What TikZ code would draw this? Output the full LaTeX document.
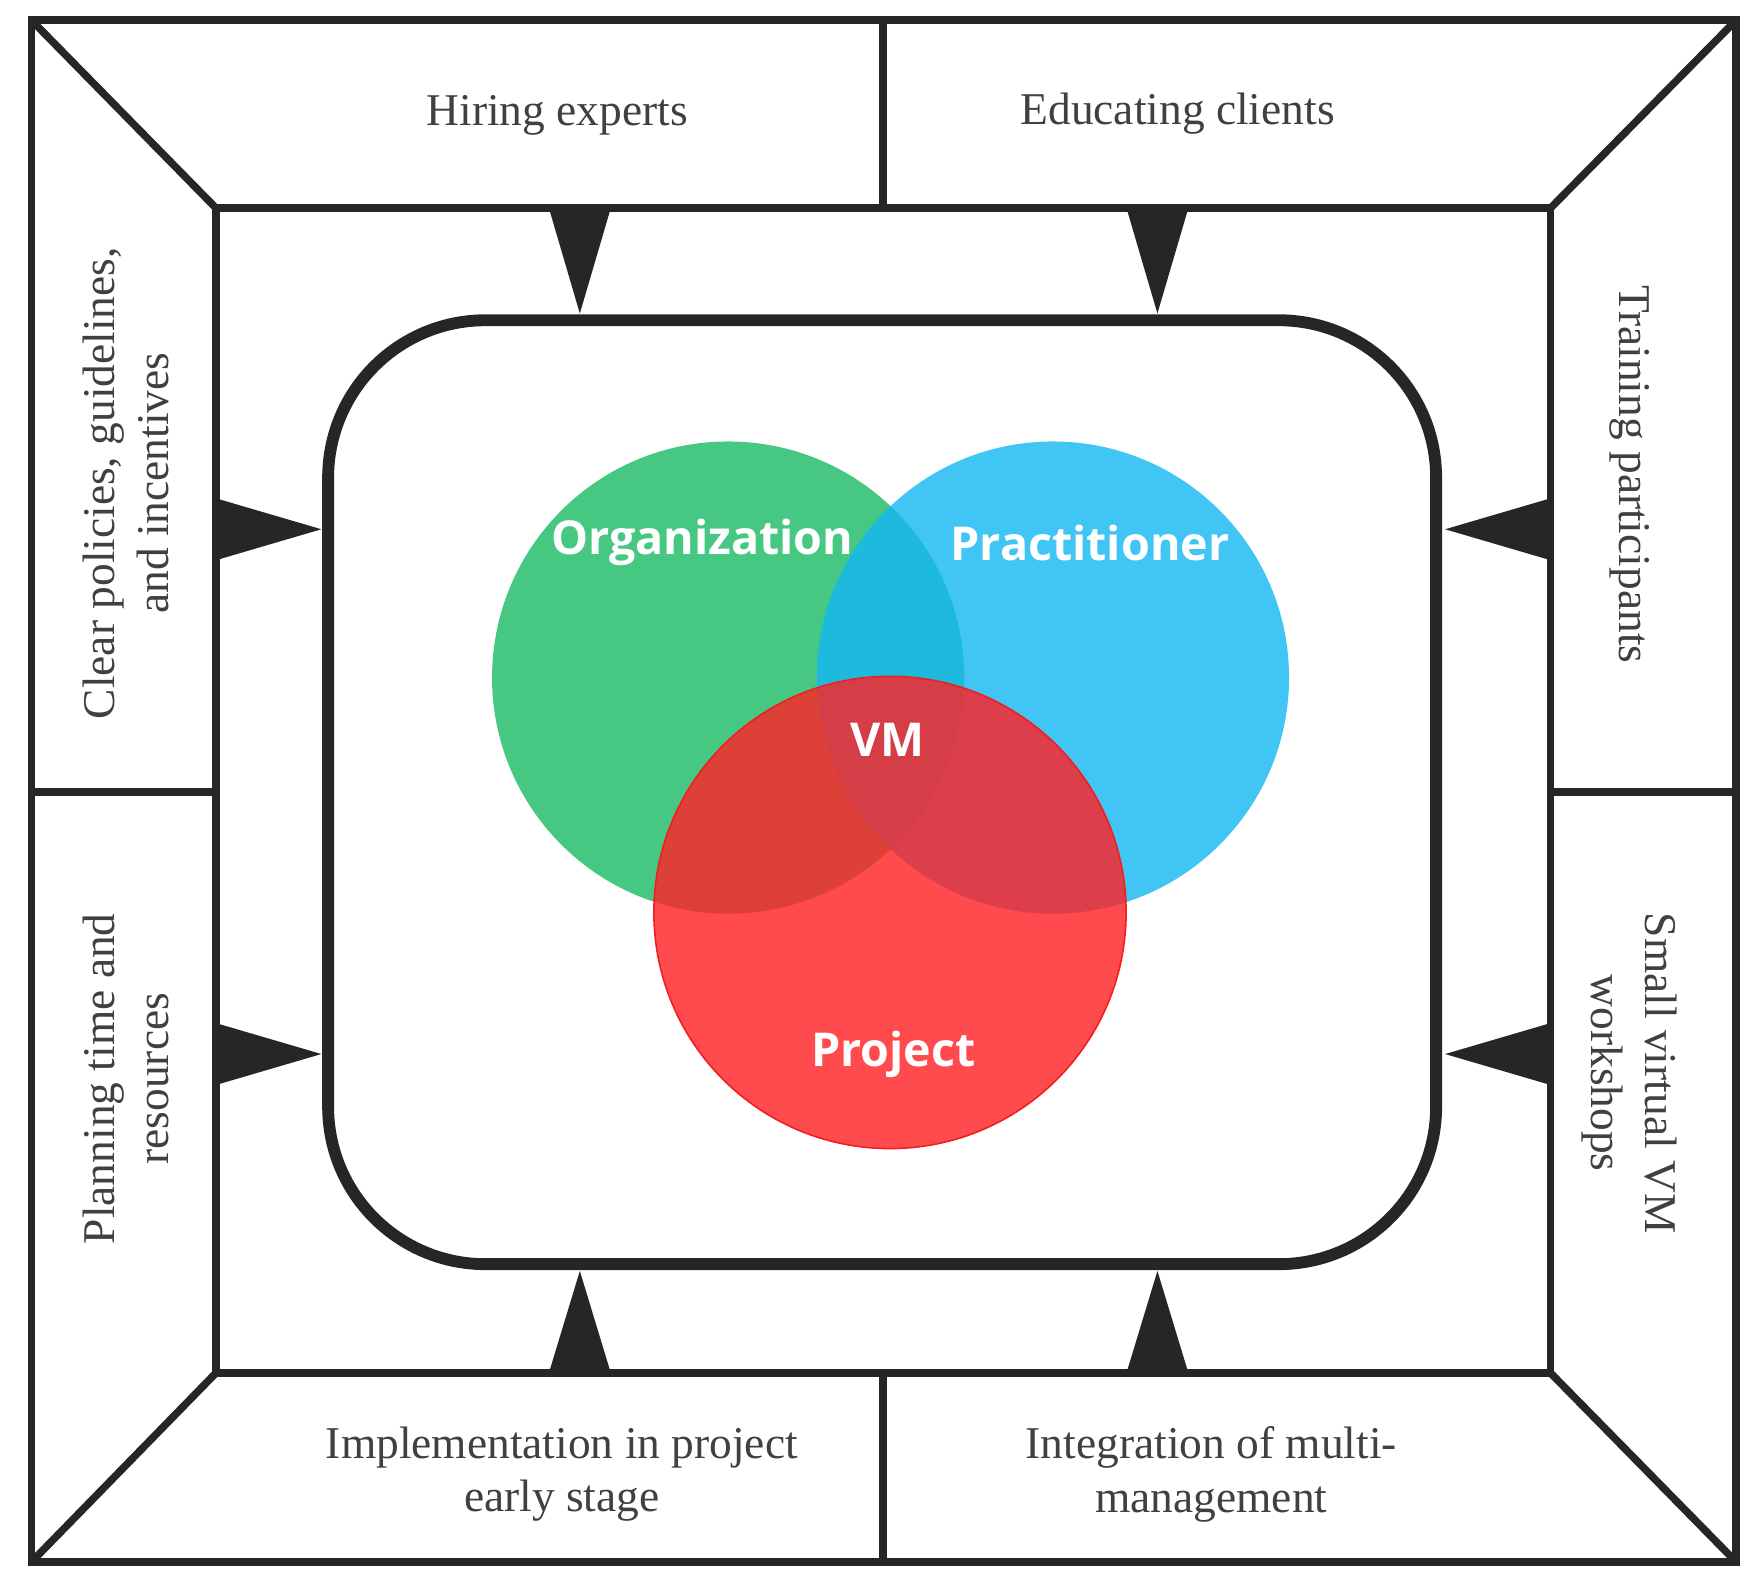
\documentclass[tikz,border=0pt]{standalone}
\usepackage{fontspec}
\setmainfont{Liberation Serif}
\newfontfamily\labelfont{Open Sans}
\usetikzlibrary{calc,positioning}

\tikzset{
  frame/.style={line width=1.9pt,draw=black!85},
  tip/.style={fill=black!85,draw=none},
  side/.style={font=\fontsize{11.5}{13.5}\selectfont,text=black!75,align=center},
  set/.style={circle,minimum size=4.2cm,inner sep=0pt,fill opacity=0.82,text opacity=1},
  setlabel/.style={font=\labelfont\bfseries\fontsize{11.8}{14}\selectfont,text=white}
}

\begin{document}
\begin{tikzpicture}[x=0.01cm,y=-0.01cm]
\useasboundingbox (0,0) rectangle (1568,1410);
% frames
\draw[frame] (28,18) rectangle (1545,1390);
\draw[frame] (192,185) rectangle (1380,1222);
\draw[frame] (28,18) -- (192,185) (1545,18) -- (1380,185)
  (28,1390) -- (192,1222) (1545,1390) -- (1380,1222);
\draw[frame] (786,18) -- (786,185) (786,1222) -- (786,1390)
  (28,705) -- (192,705) (1380,705) -- (1545,705);
\draw[line width=3pt,draw=black!85,rounded corners=1.4cm] (292,285) rectangle (1278,1125);

% arrow tips
\foreach \x in {516,1030}{
  \fill[tip] (\x-27,187) -- (\x+27,187) -- (\x,279) -- cycle;
  \fill[tip] (\x-27,1220) -- (\x+27,1220) -- (\x,1131) -- cycle;
}
\foreach \y in {471,938}{
  \fill[tip] (194,\y-27) -- (194,\y+27) -- (286,\y) -- cycle;
  \fill[tip] (1378,\y-27) -- (1378,\y+27) -- (1286,\y) -- cycle;
}

% sets
\node[set,fill={rgb,255:red,29;green,188;blue,104}] (org) at (648,603) {};
\node[set,fill={rgb,255:red,22;green,184;blue,243}] (pra) at (937,603) {};
\node[set,fill={rgb,255:red,255;green,35;blue,38},draw={rgb,255:red,240;green,30;blue,30}] (pro) at (792,812) {};
\node[setlabel] (orgl) at (625,483) {Organization};
\node[setlabel] (pral) at (970,483) {Practitioner};
\node[setlabel] (vm) at (790,658) {VM};
\node[setlabel] (prol) at (795,938) {Project};

% labels
\node[side] (hire) at (496,103) {Hiring experts};
\node[side] (edu) at (1048,101) {Educating clients};
\node[side] (impl) at (500,1312) {Implementation in project\\early stage};
\node[side] (integ) at (1078,1312) {Integration of multi-\\management};
\node[side,rotate=90] (policy) at (112,430) {Clear policies, guidelines,\\and incentives};
\node[side,rotate=90] (plan) at (112,960) {Planning time and\\resources};
\node[side,rotate=-90] (train) at (1450,422) {Training participants};
\node[side,rotate=-90] (small) at (1450,955) {Small virtual VM\\workshops};
\end{tikzpicture}
\end{document}
